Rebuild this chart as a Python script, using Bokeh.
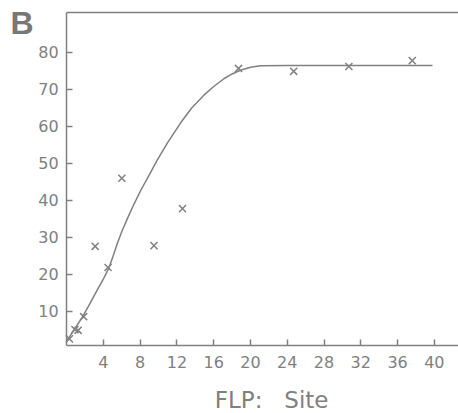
from bokeh.plotting import figure
from bokeh.models import FixedTicker, Label, Range1d, LinearAxis
from bokeh.embed import file_html
from bokeh.resources import INLINE

# measured points (crosses)
pts_x = [0.3, 0.9, 1.25, 1.85, 3.1, 4.5, 6.0, 9.5, 12.6, 18.7, 24.7, 30.7, 37.6]
pts_y = [2.6, 5.1, 4.9, 8.6, 27.6, 21.9, 46.0, 27.8, 37.8, 75.7, 74.9, 76.2, 77.8]

# fitted curve
curve_x = [0.05, 0.8, 1.7, 2.5, 3.3, 4.0, 4.6, 5.0, 5.5, 6.0, 6.6, 7.3, 8.05, 9.0, 9.85,
           11.0, 12.4, 13.6, 14.9, 16.0, 17.1, 18.0, 18.9, 20.0, 21.1, 24.0, 30.0, 39.8]
curve_y = [2.2, 5.0, 8.5, 12.0, 15.7, 18.8, 21.8, 24.6, 28.3, 31.6, 35.1, 38.9, 42.7, 47.0, 50.9,
           55.7, 61.0, 65.0, 68.4, 70.8, 72.9, 74.2, 75.2, 76.0, 76.4, 76.5, 76.5, 76.5]

x_ticks = [4, 8, 12, 16, 20, 24, 28, 32, 36, 40]
y_ticks = [10, 20, 30, 40, 50, 60, 70, 80]
x_title = "FLP:\u00a0\u00a0\u00a0Site"
panel_tag = "B"

GRAY = "#808080"
FONT = "DejaVu Sans"
Y_BOTTOM = 0.8
Y_TOP = 90.8

p = figure(width=458, height=413, output_backend="svg", toolbar_location=None,
           x_range=Range1d(-7.2, 42.63), y_range=Range1d(-17.57, 94.05),
           min_border_left=0, min_border_right=0, min_border_top=0, min_border_bottom=0)
p.outline_line_color = None
p.grid.visible = False
p.background_fill_color = "white"
p.border_fill_color = "white"

xb = p.xaxis[0]
yl = p.yaxis[0]

p.line(curve_x, curve_y, line_color=GRAY, line_width=1.5)
p.scatter(pts_x, pts_y, marker="x", size=10, line_color=GRAY, line_width=1.5)

top = LinearAxis(fixed_location=Y_TOP, bounds=(0, 44.6), ticker=FixedTicker(ticks=[]),
                 major_label_text_font_size="0px", major_tick_line_color=None,
                 minor_tick_line_color=None, axis_line_color=GRAY, axis_line_width=1.5)
p.add_layout(top, "above")

for ax in (xb, yl):
    ax.axis_line_color = GRAY
    ax.axis_line_width = 1.5
    ax.major_tick_line_color = GRAY
    ax.major_tick_line_width = 1.5
    ax.major_tick_in = 6
    ax.major_tick_out = 0
    ax.minor_tick_line_color = None
    ax.major_label_text_color = GRAY
    ax.major_label_text_font = FONT
    ax.major_label_text_font_size = "16px"

yl.fixed_location = 0
yl.bounds = (Y_BOTTOM, Y_TOP)
xb.fixed_location = Y_BOTTOM
xb.bounds = (0, 44.6)

xb.ticker = FixedTicker(ticks=x_ticks)
yl.ticker = FixedTicker(ticks=y_ticks)
xb.major_label_standoff = 10
yl.major_label_standoff = 8

p.add_layout(Label(x=22.3, y=-13.8, text=x_title, text_align="center", text_baseline="middle",
                   text_font=FONT, text_font_size="23px", text_color=GRAY))

p.add_layout(Label(x=-6.1, y=88.1, text=panel_tag,
                   text_font="Liberation Sans", text_font_style="bold",
                   text_font_size="32px", text_color="#777777", text_baseline="alphabetic"))

open("out.html", "w").write(file_html(p, INLINE))
